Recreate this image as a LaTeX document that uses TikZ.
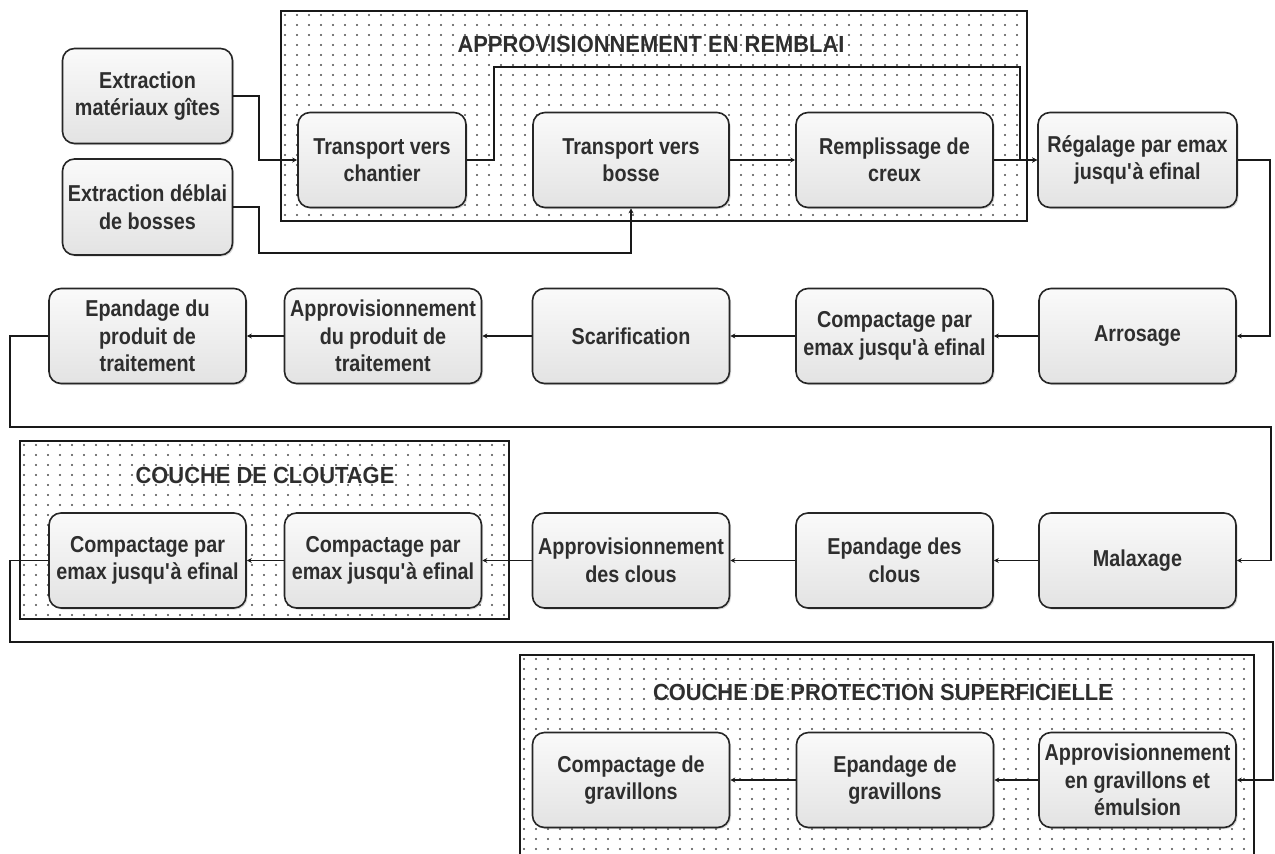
\documentclass[tikz,border=0pt]{standalone}
\usepackage{fontspec}
\setmainfont{Liberation Sans}
\newfontfamily\boxfont[FakeStretch=0.86]{Liberation Sans}
\newfontfamily\titlefont[FakeStretch=0.94]{Liberation Sans}
\usetikzlibrary{arrows.meta,shadows}
\newcommand{\apos}{\textquotesingle}
\begin{document}
\begin{tikzpicture}[x=1pt,y=-1pt,
  box/.style={draw=black!85, line width=1.6pt, rounded corners=12pt,
    top color=black!2, bottom color=black!11,
    drop shadow={shadow xshift=1.5pt, shadow yshift=-1.5pt, opacity=0.3},
    minimum width=197pt, minimum height=95pt, inner sep=2pt,
    align=center, text=black!82,
    font=\boxfont\fontsize{23}{27.5}\selectfont\bfseries},
  narrowbox/.style={box, minimum width=170pt},
  framebox/.style={draw=black!90, line width=1.6pt, fill=white},
  title/.style={text=black!82, font=\titlefont\fontsize{23.3}{26}\selectfont\bfseries},
  conn/.style={draw=black!90, line width=1.6pt, -{Stealth[length=5pt,width=5pt]}},
  plain/.style={draw=black!90, line width=1.6pt},
  dotfill/.style={fill=black!70}
]
\useasboundingbox (0,0) rectangle (1275,854);
\fill[white] (0,0) rectangle (1275,854);

% ---------- frames with dot pattern ----------
\path[framebox] (281,11) rectangle (1027,221);
\begin{scope}
  \clip (282,12) rectangle (1026,220);
  \fill[dotfill] \foreach \x in {285,297,...,1030} {\foreach \y in {15,25,...,225} {(\x,\y) circle (1.05)}};
\end{scope}
\draw[plain] (281,11) rectangle (1027,221);

\path[framebox] (20,441) rectangle (509,619);
\begin{scope}
  \clip (21,442) rectangle (508,618);
  \fill[dotfill] \foreach \x in {24,36,...,512} {\foreach \y in {445,455,...,625} {(\x,\y) circle (1.05)}};
\end{scope}
\draw[plain] (20,441) rectangle (509,619);

\path[framebox] (520,655) rectangle (1254,880);
\begin{scope}
  \clip (521,656) rectangle (1253,879);
  \fill[dotfill] \foreach \x in {524,536,...,1258} {\foreach \y in {659,669,...,859} {(\x,\y) circle (1.05)}};
\end{scope}
\draw[plain] (520,655) rectangle (1254,880);

% ---------- titles ----------
\node[title] (t1) at (651,44) {APPROVISIONNEMENT EN REMBLAI};
\node[title] (t2) at (265,475) {COUCHE DE CLOUTAGE};
\node[title] (t3) at (883,692) {COUCHE DE PROTECTION SUPERFICIELLE};

% ---------- row 1 ----------
\node[narrowbox, minimum height=95pt] (ext1) at (147.5,96) {Extraction\\matériaux gîtes};
\node[narrowbox, minimum height=96pt] (ext2) at (147.5,207) {Extraction déblai\\de bosses};
\node[box, minimum width=168pt] (tvc) at (382,160) {Transport vers\\chantier};
\node[box, minimum width=196pt] (tvb) at (631,160) {Transport vers\\bosse};
\node[box] (rem) at (894.5,160) {Remplissage de\\creux};
\node[box, minimum width=199pt] (reg) at (1137.5,160) {Régalage par emax\\jusqu\apos à efinal};

% ---------- row 2 ----------
\node[box] (epp) at (147.5,336) {Epandage du\\produit de\\traitement};
\node[box] (app) at (383,336) {Approvisionnement\\du produit de\\traitement};
\node[box] (sca) at (631,336) {Scarification};
\node[box] (cmp1) at (894.5,336) {Compactage par\\emax jusqu\apos à efinal};
\node[box] (arr) at (1137.5,336) {Arrosage};

% ---------- row 3 ----------
\node[box] (cmp3) at (147.5,560.5) {Compactage par\\emax jusqu\apos à efinal};
\node[box] (cmp2) at (383,560.5) {Compactage par\\emax jusqu\apos à efinal};
\node[box] (apc) at (631,560.5) {Approvisionnement\\des clous};
\node[box] (epc) at (894.5,560.5) {Epandage des\\clous};
\node[box] (mal) at (1137.5,560.5) {Malaxage};

% ---------- row 4 ----------
\node[box] (cpg) at (631,780) {Compactage de\\gravillons};
\node[box] (epg) at (895,780) {Epandage de\\gravillons};
\node[box] (apg) at (1137.5,780) {Approvisionnement\\en gravillons et\\émulsion};

% ---------- helper coordinates ----------
\coordinate (j1) at (259,96);
\coordinate (j2) at (259,253);
\coordinate (j3) at (494,67);
\coordinate (j4) at (1020,67);
\coordinate (r1) at (1270,160);
\coordinate (l1) at (10,427);
\coordinate (r2) at (1271,427);
\coordinate (l2) at (10,642);
\coordinate (r3) at (1273,642);

% ---------- connectors ----------
\draw[conn] (ext1.east) -- (j1) |- (tvc.west);
\draw[conn] (ext2.east) -| (j2) -| (tvb.south);
\draw[conn] (tvc.east) -| (j3) -- (j4) |- (reg.west);
\draw[conn] (tvb) -- (rem);
\draw[conn] (rem) -- (reg);
\draw[conn] (reg.east) -- (r1) |- (arr.east);
\draw[conn] (arr) -- (cmp1);
\draw[conn] (cmp1) -- (sca);
\draw[conn] (sca) -- (app);
\draw[conn] (app) -- (epp);
\draw[conn] (epp.west) -| (l1) -- (r2) |- (mal.east);
\draw[conn] (mal) -- (epc);
\draw[conn] (epc) -- (apc);
\draw[conn] (apc) -- (cmp2);
\draw[conn] (cmp2) -- (cmp3);
\draw[conn] (cmp3.west) -| (l2) -- (r3) |- (apg.east);
\draw[conn] (apg) -- (epg);
\draw[conn] (epg) -- (cpg);
\end{tikzpicture}
\end{document}
